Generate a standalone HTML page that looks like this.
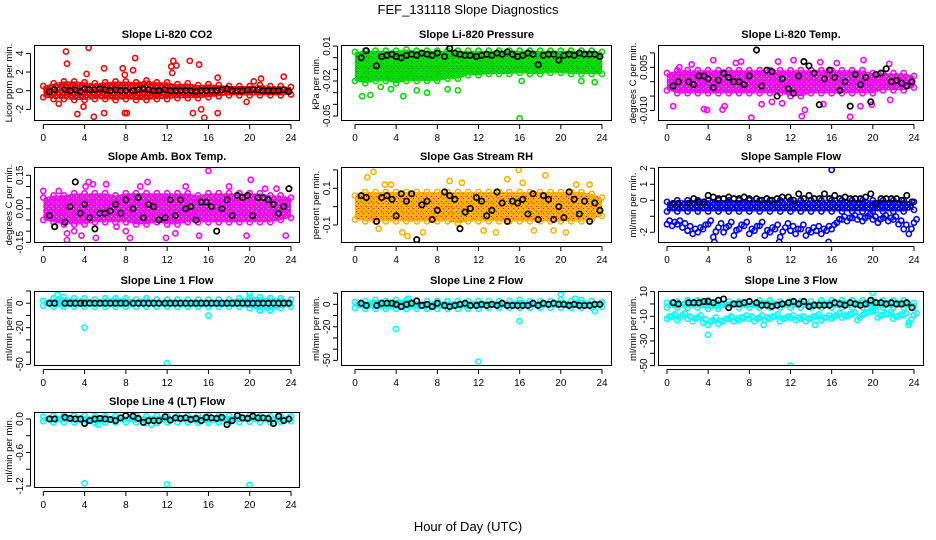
<!DOCTYPE html>
<html><head><meta charset="utf-8"><style>
html,body{margin:0;padding:0;background:#fff;}
svg{display:block;font-family:"Liberation Sans",sans-serif;}
</style></head><body>
<svg id="chart" width="936" height="540" viewBox="0 0 936 540">
<text x="468" y="14" text-anchor="middle" font-size="13">FEF_131118  Slope Diagnostics</text>
<text x="468" y="531" text-anchor="middle" font-size="13">Hour of Day (UTC)</text>
</svg>
<script>
// shared x data
const xTicks = [0,4,8,12,16,20,24];
const envHours = [0,1,2,3,4,5,6,7,8,9,10,11,12,13,14,15,16,17,18,19,20,21,22,23,24];
const blackHours = [0.6,1.1,2.1,2.6,3.1,3.6,4,4.5,5,5.5,6,6.5,7,7.5,8,8.7,9.2,9.7,10.2,10.7,11.2,11.8,12.3,12.8,13.3,13.8,14.3,14.8,15.3,15.8,16.3,16.8,17.3,17.8,18.3,18.8,19.3,19.8,20.3,20.8,21.3,21.8,22.3,22.8,23.3,23.8];

// Panel 1: CO2
const co2Hi = [0.5,0.8,1.0,1.0,0.9,0.8,0.9,1.0,1.0,0.9,1.1,0.9,0.9,0.7,0.8,0.6,0.7,0.6,0.5,0.5,0.5,0.6,0.5,0.5,0.4];
const co2Lo = [-0.7,-0.9,-0.9,-1.0,-1.0,-0.9,-0.9,-1.0,-0.9,-1.0,-1.0,-0.9,-0.9,-0.8,-0.8,-0.8,-0.7,-0.6,-0.5,-0.5,-0.5,-0.5,-0.5,-0.5,-0.4];
const co2OutX = [2.2,2.3,4.4,4.2,3.3,4.9,5.9,5.9,7.7,7.9,8.7,8.9,8.1,7.9,12.4,12.6,12.9,12.5,14.2,15.1,15.3,15.6,14.5,16.9,16.9,19.7,21.1,23.3,20.4,1.5,3.9];
const co2OutY = [4.2,2.9,4.6,1.8,-2.5,-2.8,2.4,-2.4,2.4,1.7,2.2,3.5,-2.4,-2.4,2.6,3.2,2.7,1.9,3.2,2.8,-2.0,-2.9,-2.4,1.4,-2.4,-1.2,1.3,1.5,1.0,-1.4,-1.7];
const co2Black = [-0.1,0.1,0.1,0,0.1,-0.1,0.2,0.1,0.1,0.2,0.1,0,0.1,0,0,0,0.1,0.2,0.1,0,0,0.1,0,0,0,0,0,-0.1,0,0,0,0,0.1,0.2,0,0,0,0.1,0.1,0.1,0,0,0,0,0.1,-0.1];

// Panel 2: Pressure
const prHi = [0.005,0.006,0.006,0.006,0.006,0.007,0.006,0.006,0.006,0.006,0.006,0.006,0.006,0.006,0.006,0.006,0.006,0.006,0.006,0.006,0.006,0.006,0.006,0.006,0.005];
const prLo = [-0.02,-0.022,-0.02,-0.02,-0.022,-0.02,-0.02,-0.02,-0.02,-0.018,-0.018,-0.015,-0.015,-0.014,-0.014,-0.014,-0.013,-0.014,-0.014,-0.013,-0.013,-0.014,-0.014,-0.014,-0.014];
const prOutX = [0.7,1.5,4.7,2.5,8,16,24,6,7,9,10,3.5,23.3,16.2,22];
const prOutY = [-0.033,-0.032,-0.033,-0.025,-0.061,-0.052,-0.061,-0.028,-0.03,-0.027,-0.028,-0.027,-0.021,-0.02,-0.02];
const prBlack = [0,0.006,-0.007,0.001,0.002,0.003,0.001,0,0.002,0.003,0.002,0.004,0.003,0.002,0.004,0.001,0.008,0.004,0.003,0.002,0.002,0.001,0.002,0.003,0.002,0.004,0.003,0.005,0.003,0.001,0.002,0.004,0.003,-0.006,0.002,0.003,0.003,-0.002,0.002,0.003,0.002,0.004,0.003,0.003,0.003,0.001];

// Panel 3: Li-820 Temp
const ltHi = [0.003,0.004,0.004,0.004,0.004,0.004,0.004,0.004,0.004,0.004,0.004,0.004,0.004,0.004,0.004,0.004,0.004,0.004,0.004,0.004,0.003,0.003,0.003,0.003,0.002];
const ltLo = [-0.003,-0.004,-0.004,-0.004,-0.004,-0.004,-0.004,-0.004,-0.004,-0.004,-0.004,-0.004,-0.005,-0.005,-0.004,-0.004,-0.004,-0.004,-0.004,-0.004,-0.004,-0.003,-0.003,-0.003,-0.002];
const ltOutX = [0.6,3.6,3.9,5.4,5.6,8.2,4.5,7.2,12.3,13.1,13.4,17.8,18.8,19.1,21.6,9.2,15.2,21.7,11.2,10.8,14.9,2.4,6.7,16.5,19.9,1.2,10.2];
const ltOutY = [-0.0085,-0.0095,-0.0098,-0.0097,-0.0085,-0.0125,0.0075,0.007,0.0075,-0.012,-0.0098,-0.0122,-0.0085,0.0075,0.0062,-0.0078,-0.0078,-0.0063,-0.0075,0.007,0.0068,0.006,0.0065,0.0065,-0.008,0.005,-0.007];
const ltBlack = [-0.0015,0,0,-0.001,0.002,0.002,0.001,-0.002,0.0005,0.003,0.0015,0,0,-0.001,0.002,0.011,-0.0015,0.004,0.0035,-0.005,0.001,-0.0025,-0.004,0.002,0.007,0.0055,0.003,-0.008,0.001,0.004,0.0015,-0.003,0,-0.0085,0.0025,-0.001,0.0015,-0.007,0.0025,0.003,0.0045,0,0.0005,-0.0005,-0.0015,0];

// Panel 4: Amb Box Temp
const abHi = [0.05,0.06,0.06,0.07,0.07,0.07,0.07,0.06,0.07,0.07,0.07,0.07,0.07,0.07,0.07,0.06,0.07,0.07,0.07,0.07,0.07,0.07,0.06,0.06,0.05];
const abLo = [-0.05,-0.06,-0.07,-0.07,-0.07,-0.06,-0.06,-0.06,-0.06,-0.07,-0.07,-0.06,-0.07,-0.07,-0.06,-0.06,-0.06,-0.06,-0.06,-0.06,-0.06,-0.06,-0.06,-0.05,-0.04];
const abOutX = [2.3,2.3,3.7,5.1,4.1,9.4,10.1,11.9,12.8,15.1,16,4.4,4.8,6.1,8.4,13.8,20.1,19.7,22.6,23.5,1.5,7.1,0,3,8,18,21.5];
const abOutY = [-0.14,-0.11,-0.12,-0.13,0.1,0.1,0.12,-0.13,-0.11,-0.12,0.17,0.12,0.11,0.11,-0.13,0.1,0.13,-0.12,0.09,-0.12,0.08,-0.08,0.08,-0.1,-0.1,0.1,0.09];
const abBlack = [-0.03,-0.08,-0.06,0.01,0.12,-0.02,0.02,-0.04,-0.09,-0.02,-0.02,-0.01,0.02,-0.02,0.04,0,0.05,-0.04,0.02,0.01,-0.05,-0.04,0.04,-0.03,0.04,0,0.01,-0.05,0.03,0.03,0.01,-0.1,0,0.04,-0.03,0.06,0.05,0.06,-0.03,0.05,0.05,0.04,0.02,-0.02,0.01,0.09];

// Panel 5: Gas Stream RH
const rhHi = [0.06,0.08,0.08,0.08,0.08,0.08,0.08,0.08,0.08,0.08,0.08,0.08,0.08,0.08,0.08,0.08,0.08,0.08,0.08,0.08,0.08,0.08,0.08,0.07,0.05];
const rhLo = [-0.07,-0.08,-0.08,-0.08,-0.08,-0.08,-0.08,-0.08,-0.08,-0.08,-0.09,-0.08,-0.08,-0.08,-0.08,-0.08,-0.08,-0.08,-0.08,-0.08,-0.08,-0.08,-0.08,-0.07,-0.05];
const rhOutX = [1.2,1.8,2.9,3.5,4.6,5.1,9.2,10.4,14.8,15.9,16.3,17.4,18.5,20.5,21.5,22.8,12.5,13.7,19.3,2.3,6.6];
const rhOutY = [0.16,0.19,0.12,0.12,-0.14,-0.16,0.14,0.13,0.15,0.2,0.13,-0.13,0.17,-0.14,0.12,0.12,-0.13,-0.14,-0.13,-0.12,-0.14];
const rhBlack = [0.06,0.05,-0.08,0.05,0.06,0.04,-0.05,0.07,0.03,0.07,-0.18,0.01,0.03,-0.07,-0.02,0.08,0.06,0.04,-0.12,-0.03,-0.01,0.05,0.03,-0.05,-0.02,0.08,0.02,-0.08,0.03,0.02,0.04,-0.04,0.07,-0.07,0.06,0.04,-0.07,0,-0.06,0.08,0.04,-0.04,0.03,-0.08,0.02,-0.02];

// Panel 6: Sample Flow
const sfHi = [-0.1,0,0,0,0,0,0,0,0,0,0,0,0,0,0,0,0,0,0,0,0,0,0,0,-0.1];
const sfLo = [-0.7,-0.7,-0.7,-0.7,-0.7,-0.7,-0.7,-0.7,-0.7,-0.7,-0.7,-0.7,-0.7,-0.7,-0.7,-0.7,-0.7,-0.7,-0.7,-0.7,-0.7,-0.7,-0.7,-0.7,-0.6];
const sfLowX = [0,0.5,1,1.5,2,2.5,3,3.5,4,4.5,5,5.5,6,6.5,7,7.5,8,8.5,9,9.5,10,10.5,11,11.5,12,12.5,13,13.5,14,14.5,15,15.5,16,16.5,17,17.5,18,18.5,19,19.5,20,20.5,21,21.5,22,22.5,23,23.5,24];
const sfLowY = [-1.5,-1.6,-1.5,-1.7,-1.9,-2.1,-2.0,-1.8,-1.5,-2.3,-1.7,-2.0,-1.6,-2.2,-1.8,-1.6,-2.1,-1.9,-1.6,-2.2,-2.0,-1.8,-2.3,-1.7,-1.9,-2.1,-1.8,-2.2,-2.0,-1.9,-2.1,-1.9,-1.8,-1.4,-1.2,-1.3,-1.1,-1.2,-1.3,-1.0,-1.2,-1.4,-1.1,-1.3,-1.2,-1.5,-1.8,-2.1,-1.4];
const sfOutX = [16,4.6,10.9,15.7];
const sfOutY = [1.9,-2.6,-2.6,-2.6];
const sfBlack = [-0.2,-0.2,-0.2,0.1,-0.1,-0.1,0.3,0.2,0.1,0.1,0.2,0.1,0.1,0.2,0.1,0.1,0,0.1,0,0.1,0.2,0.2,0,0.4,0.1,0.3,0.1,0.1,0.4,0.1,0.3,0.1,0.2,0.1,0.1,0.1,0.2,0.4,-0.2,0.1,0.1,0.1,0.1,0,0.3,-0.1];

// Panel 7: Line 1 Flow
const l1Hi = [2,4,5,4,4,3,4,4,4,3,4,3,3,3,3,3,3,3,3,4,5,5,4,4,3];
const l1Lo = [-2,-3,-3,-3,-3,-3,-3,-3,-3,-3,-3,-3,-3,-3,-3,-3,-3,-3,-3,-3,-4,-6,-6,-4,-3];
const l1OutX = [4,12,16,20,21,22,1.4];
const l1OutY = [-20,-49,-10,8,-6,-6,7];
const l1Black = [0,0,0,0,0,0,0,0,0,0,0,0,0,0,0,0,0,0,0,0,0,0,0,0,0,0,0,0,0,0,0,0,0,0,0,0,0,0,0,0,0,0,0,0,0,0];

// Panel 8: Line 2 Flow
const l2Hi = [2,3,4,3,4,4,3,3,3,3,3,3,3,3,3,3,4,3,3,3,4,3,4,3,2];
const l2Lo = [-3,-4,-4,-4,-4,-4,-4,-4,-4,-4,-4,-4,-4,-3,-3,-3,-3,-3,-3,-3,-3,-3,-3,-3,-2];
const l2OutX = [4,12,16,20,5.2,21.4,23.3];
const l2OutY = [-22,-51,-15,9,5,5,-6];
const l2Black = [1,-1,-1,1,1,1,0,-2,0,1,3,-1,0,-2,1,-1,-2,-1,0,1,-1,-1,0,-1,0,-1,1,-1,-1,-1,-1,-1,1,-1,1,0,1,0,0,-1,0,-1,-1,-1,0,0];

// Panel 9: Line 3 Flow
const l3Hi = [1,2,3,3,3,3,2,2,2,3,3,2,2,2,2,3,3,3,3,3,3,3,3,3,1];
const l3Lo = [-3,-3,-3,-3,-4,-4,-3,-3,-3,-3,-3,-3,-3,-3,-3,-3,-3,-3,-3,-3,-3,-3,-3,-3,-2];
const l3LowX = [0,0.5,1,1.5,2,2.5,3,3.5,4,4.5,5,5.5,6,6.5,7,7.5,8,8.5,9,9.5,10,10.5,11,11.5,12,12.5,13,13.5,14,14.5,15,15.5,16,16.5,17,17.5,18,18.5,19,19.5,20,20.5,21,21.5,22,22.5,23,23.5,24];
const l3LowY = [-12,-10,-13,-9,-12,-14,-11,-15,-17,-13,-16,-14,-12,-14,-13,-11,-12,-14,-11,-13,-12,-10,-14,-12,-11,-13,-12,-14,-12,-10,-13,-11,-12,-9,-11,-10,-8,-13,-9,-7,-6,-11,-9,-8,-12,-10,-9,-15,-9];
const l3OutX = [4,12,20,9.4,14.4,23.5];
const l3OutY = [-25,-50,9,-17,-17,-17];
const l3Black = [1,0,1,1,1,2,2,1,3,4,-3,0,0,1,2,1,-1,-1,-2,-1,0,1,2,0,2,-2,-1,-1,-1,-1,1,0,-1,1,0,-1,0,3,1,1,0,1,0,0,1,-3];

// Panel 10: Line 4 (LT) Flow
const l4Hi = [0.04,0.06,0.06,0.06,0.06,0.05,0.05,0.05,0.05,0.06,0.05,0.06,0.05,0.05,0.06,0.07,0.06,0.05,0.06,0.05,0.06,0.05,0.05,0.05,0.05];
const l4Lo = [-0.04,-0.06,-0.06,-0.06,-0.07,-0.07,-0.06,-0.06,-0.06,-0.06,-0.07,-0.07,-0.06,-0.06,-0.06,-0.07,-0.07,-0.06,-0.06,-0.06,-0.05,-0.06,-0.06,-0.05,-0.04];
const l4OutX = [4,12,20,5.3,10.5];
const l4OutY = [-1.15,-1.17,-1.18,-0.1,-0.1];
const l4Black = [0,0,0.03,0.01,0,0,-0.08,-0.03,0,0.01,0,-0.01,-0.03,0.02,0.06,0.05,0.01,-0.06,-0.03,-0.03,-0.03,0.04,-0.02,0.02,0.01,0.02,-0.01,0.01,-0.03,0.03,0.02,0.01,0.03,-0.1,-0.03,0.06,0.02,0.01,0.05,0.02,0.02,0.01,-0.08,0.05,-0.03,0];

const svg = document.getElementById('chart');
const NS = 'http://www.w3.org/2000/svg';
function mk(tag, attrs, parent) {
  const e = document.createElementNS(NS, tag);
  for (const k in attrs) e.setAttribute(k, attrs[k]);
  (parent || svg).appendChild(e);
  return e;
}
const defs = mk('defs', {});

const colLeft = [34, 341, 658], colRight = [300, 612, 924];
const colX0 = [43.3, 355, 667], colX24 = [291, 602, 914];
const rowTop = [45, 167, 291, 412], rowBot = [121, 243, 366, 488];

const panels = [
  {key:'co2', title:'Slope Li-820 CO2', ylab:'Licor ppm per min.', c:0, r:0, top:4.9, bot:-3.25, color:'#ff0000', tex:'#ffffff',
   ticks:[-2,0,2,4], tl:['-2','0','2','4'], hi:co2Hi, lo:co2Lo, ox:co2OutX, oy:co2OutY, black:co2Black},
  {key:'pressure', title:'Slope Li-820 Pressure', ylab:'kPa per min.', c:1, r:0, top:0.0109, bot:-0.0543, color:'#00dd00', tex:'#006600',
   ticks:[0.01,0,-0.01,-0.02,-0.03,-0.04,-0.05], tl:['0.01','','','-0.02','','','-0.05'], hi:prHi, lo:prLo, ox:prOutX, oy:prOutY, black:prBlack},
  {key:'li-temp', title:'Slope Li-820 Temp.', ylab:'degrees C per min.', c:2, r:0, top:0.01275, bot:-0.01365, color:'#ff00ff', tex:'#ffffff',
   ticks:[0.01,0.005,0,-0.005,-0.01], tl:['','0.005','','','-0.010'], hi:ltHi, lo:ltLo, ox:ltOutX, oy:ltOutY, black:ltBlack},
  {key:'amb-box', title:'Slope Amb. Box Temp.', ylab:'degrees C per min.', c:0, r:1, top:0.187, bot:-0.153, color:'#ff00ff', tex:'#ffffff',
   ticks:[0.15,0.1,0.05,0,-0.05,-0.1,-0.15], tl:['0.15','','','0.00','','','-0.15'], hi:abHi, lo:abLo, ox:abOutX, oy:abOutY, black:abBlack},
  {key:'rh', title:'Slope Gas Stream RH', ylab:'percent per min.', c:1, r:1, top:0.216, bot:-0.198, color:'#ffb000', tex:'#ee0000',
   ticks:[0.2,0.1,0,-0.1], tl:['','0.1','','-0.1'], hi:rhHi, lo:rhLo, ox:rhOutX, oy:rhOutY, black:rhBlack},
  {key:'sample-flow', title:'Slope Sample Flow', ylab:'ml/min per min.', c:2, r:1, top:2.08, bot:-2.67, color:'#0000ff', tex:'#ffffff',
   ticks:[2,1,0,-1,-2], tl:['2','1','0','','-2'], hi:sfHi, lo:sfLo, ox:sfOutX, oy:sfOutY, black:sfBlack, lx:sfLowX, ly:sfLowY},
  {key:'line1', title:'Slope Line 1 Flow', ylab:'ml/min per min.', c:0, r:2, top:10, bot:-51.4, color:'#00ffff', tex:'#ffffff',
   ticks:[10,0,-10,-20,-30,-40,-50], tl:['','0','','-20','','','-50'], hi:l1Hi, lo:l1Lo, ox:l1OutX, oy:l1OutY, black:l1Black},
  {key:'line2', title:'Slope Line 2 Flow', ylab:'ml/min per min.', c:1, r:2, top:11.9, bot:-55, color:'#00ffff', tex:'#ffffff',
   ticks:[10,0,-10,-20,-30,-40,-50], tl:['','0','','-20','','','-50'], hi:l2Hi, lo:l2Lo, ox:l2OutX, oy:l2OutY, black:l2Black},
  {key:'line3', title:'Slope Line 3 Flow', ylab:'ml/min per min.', c:2, r:2, top:10.5, bot:-50.3, color:'#00ffff', tex:'#ffffff',
   ticks:[10,0,-10,-20,-30,-40,-50], tl:['10','','-10','','-30','','-50'], hi:l3Hi, lo:l3Lo, ox:l3OutX, oy:l3OutY, black:l3Black, lx:l3LowX, ly:l3LowY},
  {key:'line4', title:'Slope Line 4 (LT) Flow', ylab:'ml/min per min.', c:0, r:3, top:0.125, bot:-1.236, color:'#00ffff', tex:'#ffffff',
   ticks:[0,-0.3,-0.6,-0.9,-1.2], tl:['0.0','','-0.6','','-1.2'], hi:l4Hi, lo:l4Lo, ox:l4OutX, oy:l4OutY, black:l4Black}
];

panels.forEach(p => {
  const L = colLeft[p.c], R = colRight[p.c], T = rowTop[p.r], B = rowBot[p.r];
  const x0 = colX0[p.c], x24 = colX24[p.c];
  const xs = h => x0 + (x24 - x0) * h / 24;
  const ys = v => T + (p.top - v) / (p.top - p.bot) * (B - T);
  const g = mk('g', {});
  
  
  const clipId = 'clip-' + p.key;
  const cp = mk('clipPath', {id: clipId}, g);
  mk('rect', {x: L, y: T, width: R - L, height: B - T}, cp);
  const plot = mk('g', {'clip-path': 'url(#' + clipId + ')'}, g);

  // speckle pattern
  const patId = 'pat-' + p.key;
  const pat = mk('pattern', {id: patId, width: 5, height: 5, patternUnits: 'userSpaceOnUse'}, defs);
  mk('rect', {x: 0, y: 0, width: 5, height: 5, fill: p.color}, pat);
  mk('rect', {x: 1, y: 1, width: 1, height: 1, fill: p.tex}, pat);
  mk('rect', {x: 3, y: 3, width: 1, height: 1, fill: p.tex}, pat);

  // dense band
  let d = '';
  envHours.forEach((h, i) => { d += (i ? 'L' : 'M') + xs(h).toFixed(1) + ',' + ys(p.hi[i]).toFixed(1); });
  for (let i = envHours.length - 1; i >= 0; i--) d += 'L' + xs(envHours[i]).toFixed(1) + ',' + ys(p.lo[i]).toFixed(1);
  const band = mk('path', {d: d + 'Z', fill: 'url(#' + patId + ')', stroke: 'none'}, plot);
  
  
  // edge circles
  envHours.forEach((h, i) => {
    [p.hi[i], p.lo[i]].forEach(v => {
      const c = mk('circle', {cx: xs(h), cy: ys(v), r: 2.6, fill: 'none', stroke: p.color, 'stroke-width': 1.6}, plot);
      
      
    });
  });
  // secondary band points
  if (p.lx) {
    p.lx.forEach((h, i) => {
      const c = mk('circle', {cx: xs(h), cy: ys(p.ly[i]), r: 2.6, fill: 'none', stroke: p.color, 'stroke-width': 1.6}, plot);
      
      
      const c2 = mk('circle', {cx: xs(h + 0.25), cy: ys(p.ly[i] * 0.85), r: 2.6, fill: 'none', stroke: p.color, 'stroke-width': 1.6}, plot);
      
      
    });
  }
  // outliers
  p.ox.forEach((h, i) => {
    const c = mk('circle', {cx: xs(h), cy: ys(p.oy[i]), r: 2.6, fill: 'none', stroke: p.color, 'stroke-width': 1.6}, plot);
    
    
  });
  // black points
  blackHours.forEach((h, i) => {
    const c = mk('circle', {cx: xs(h), cy: ys(p.black[i]), r: 2.7, fill: 'none', stroke: '#000', 'stroke-width': 1.7}, plot);
    
    
  });

  // frame
  const fr = mk('rect', {x: L + 0.5, y: T + 0.5, width: R - L - 1, height: B - T - 1, fill: 'none', stroke: '#000', 'stroke-width': 1}, g);
  
  
  // title
  const tt = mk('text', {x: (L + R) / 2, y: T - 7, 'text-anchor': 'middle', 'font-size': 11, 'font-weight': 'bold'}, g);
  tt.textContent = p.title;
  
  
  // x axis
  const xa = mk('g', {}, g);
  
  
  mk('line', {x1: xs(0), x2: xs(24), y1: B + 3.5, y2: B + 3.5, stroke: '#000'}, xa);
  xTicks.forEach(t => {
    mk('line', {x1: xs(t), x2: xs(t), y1: B + 3.5, y2: B + 8, stroke: '#000'}, xa);
    const tl = mk('text', {x: xs(t), y: B + 20, 'text-anchor': 'middle', 'font-size': 10}, xa);
    tl.textContent = t;
    
    
  });
  // y axis
  const ya = mk('g', {}, g);
  
  
  const tv = p.ticks.map(ys);
  mk('line', {x1: L - 3.5, x2: L - 3.5, y1: Math.min(...tv), y2: Math.max(...tv), stroke: '#000'}, ya);
  p.ticks.forEach((t, i) => {
    const y = ys(t);
    mk('line', {x1: L - 8, x2: L - 3.5, y1: y, y2: y, stroke: '#000'}, ya);
    if (p.tl[i]) {
      const tl = mk('text', {x: L - 11, y: y, 'text-anchor': 'middle', 'font-size': 10, transform: 'rotate(-90 ' + (L - 11) + ' ' + y + ')'}, ya);
      tl.textContent = p.tl[i];
      
      
    }
  });
  const yl = mk('text', {x: L - 22, y: (T + B) / 2, 'text-anchor': 'middle', 'font-size': 9.5, transform: 'rotate(-90 ' + (L - 22) + ' ' + ((T + B) / 2) + ')'}, g);
  yl.textContent = p.ylab;
  
  
});
</script>
</body></html>
